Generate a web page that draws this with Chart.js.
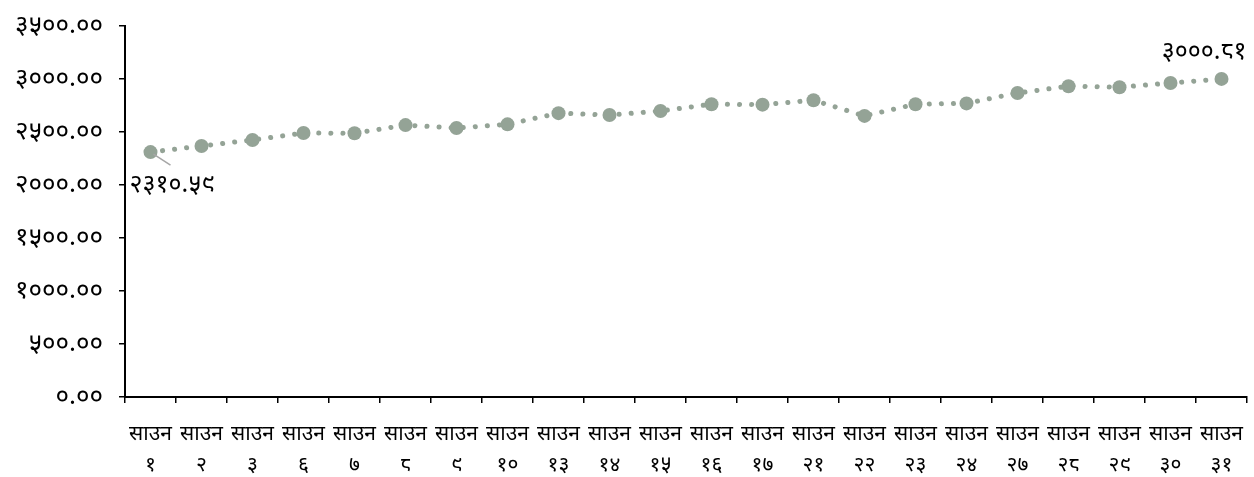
<!DOCTYPE html>
<html lang="ne">
<head>
    <meta charset="UTF-8">
    <title>साउन</title>
    <script src="https://cdn.jsdelivr.net/npm/chart.js@4.4.1/dist/chart.umd.min.js"></script>
    <style>
        body { margin: 0; background: #fff; }
        #wrap { width: 1254px; height: 477px; }
    </style>
</head>
<body>
    <div id="wrap"><canvas id="lineChart"></canvas></div>

    <script>
        // data
        var months = ['साउन', 'साउन', 'साउन', 'साउन', 'साउन', 'साउन', 'साउन', 'साउन', 'साउन', 'साउन', 'साउन',
                      'साउन', 'साउन', 'साउन', 'साउन', 'साउन', 'साउन', 'साउन', 'साउन', 'साउन', 'साउन', 'साउन'];
        var days = ['१', '२', '३', '६', '७', '८', '९', '१०', '१३', '१४', '१५',
                    '१६', '१७', '२१', '२२', '२३', '२४', '२७', '२८', '२९', '३०', '३१'];
        var values = [2310.59, 2368, 2425, 2490, 2488, 2565, 2538, 2572, 2678, 2660, 2698,
                      2762, 2758, 2800, 2652, 2762, 2770, 2868, 2932, 2922, 2962, 3000.81];
        var labeledPoints = [0, 21];
        var nepaliDigits = ['०', '१', '२', '३', '४', '५', '६', '७', '८', '९'];

        function toNepali(num) {
            return num.toFixed(2).replace(/[0-9]/g, function (d) { return nepaliDigits[+d]; });
        }

        var fontFamily = "'Noto Sans', 'DejaVu Sans', sans-serif";
        var dotColor = '#94a396';

        // value labels on first and last point, with a small leader line on the first
        var valueLabels = {
            id: 'valueLabels',
            afterDatasetsDraw: function (chart) {
                var ctx = chart.ctx;
                var meta = chart.getDatasetMeta(0);
                ctx.save();
                ctx.font = '25px ' + fontFamily;
                ctx.fillStyle = '#000';
                labeledPoints.forEach(function (i) {
                    var p = meta.data[i];
                    var text = toNepali(values[i]);
                    if (i === 0) {
                        ctx.strokeStyle = '#a6a6a6';
                        ctx.lineWidth = 1.5;
                        ctx.beginPath();
                        ctx.moveTo(p.x + 3, p.y + 2);
                        ctx.lineTo(p.x + 20, p.y + 13);
                        ctx.stroke();
                        ctx.textAlign = 'left';
                        ctx.textBaseline = 'middle';
                        ctx.fillText(text, p.x - 21, p.y + 33);
                    } else {
                        ctx.textAlign = 'right';
                        ctx.textBaseline = 'middle';
                        ctx.fillText(text, p.x + 25, p.y - 27);
                    }
                });
                ctx.restore();
            }
        };

        var labels = months.map(function (m, i) { return [m, days[i]]; });

        var ctx = document.getElementById('lineChart').getContext('2d');
        var myChart = new Chart(ctx, {
            type: 'line',
            data: {
                labels: labels,
                datasets: [{
                    data: values,
                    borderColor: dotColor,
                    backgroundColor: dotColor,
                    borderWidth: 5,
                    borderDash: [0.1, 12],
                    borderCapStyle: 'round',
                    pointRadius: 7,
                    pointBorderWidth: 0,
                    pointBackgroundColor: dotColor,
                    tension: 0,
                    fill: false
                }]
            },
            options: {
                responsive: true,
                maintainAspectRatio: false,
                animation: false,
                layout: { padding: { top: 26, right: 0, left: 0, bottom: 0 } },
                plugins: {
                    legend: { display: false },
                    tooltip: { enabled: false }
                },
                scales: {
                    x: {
                        offset: true,
                        grid: {
                            offset: true,
                            drawOnChartArea: false,
                            drawTicks: true,
                            tickLength: 6,
                            color: '#000',
                            lineWidth: 1.5
                        },
                        border: { display: true, color: '#000', width: 2 },
                        ticks: {
                            autoSkip: false,
                            maxRotation: 0,
                            minRotation: 0,
                            padding: 16,
                            color: '#000',
                            font: { family: fontFamily, size: 21, lineHeight: 1.45 }
                        },
                        afterFit: function (scale) {
                            scale.height = 80;
                            scale.paddingLeft = 0;
                            scale.paddingRight = 0;
                        }
                    },
                    y: {
                        min: 0,
                        max: 3500,
                        grid: {
                            drawOnChartArea: false,
                            drawTicks: true,
                            tickLength: 6,
                            color: '#000',
                            lineWidth: 1.5
                        },
                        border: { display: true, color: '#000', width: 2 },
                        ticks: {
                            stepSize: 500,
                            padding: 16,
                            color: '#000',
                            font: { family: fontFamily, size: 26 },
                            callback: function (v) { return toNepali(v); }
                        },
                        afterFit: function (scale) {
                            scale.width = 125;
                            scale.paddingTop = 0;
                            scale.paddingBottom = 0;
                        }
                    }
                }
            },
            plugins: [valueLabels]
        });
    </script>
</body>
</html>
